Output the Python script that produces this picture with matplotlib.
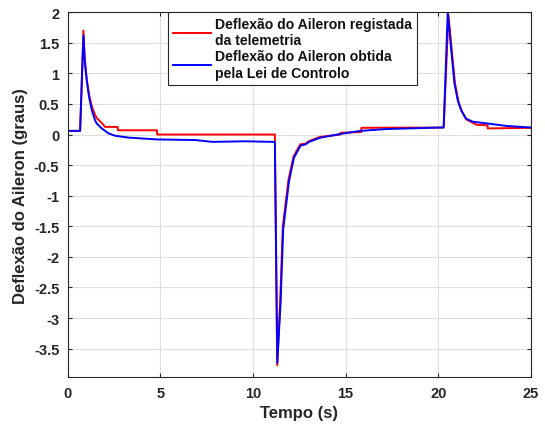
import matplotlib.pyplot as plt

plt.rcParams['font.family'] = ['Liberation Sans', 'DejaVu Sans']
plt.rcParams['font.weight'] = 'bold'

# telemetry (red)
t_tel = [0, 0.67, 0.85, 0.92, 1.03, 1.15, 1.30, 1.48, 1.57, 1.84, 2.02, 2.70, 2.71,
         4.82, 4.83, 11.18, 11.31, 11.47, 11.61, 11.92, 12.19, 12.55, 12.84, 13.0,
         13.6, 14.72, 14.73, 15.84, 15.85, 20.29, 20.55, 20.75, 20.9, 21.1, 21.3,
         21.5, 22.05, 22.66, 22.67, 25]
d_tel = [0.06, 0.06, 1.70, 1.25, 0.90, 0.66, 0.46, 0.32, 0.27, 0.19, 0.125, 0.125, 0.07,
         0.07, 0.0, 0.0, -3.77, -2.7, -1.5, -0.73, -0.36, -0.16, -0.15, -0.11,
         -0.04, 0.0, 0.03, 0.04, 0.11, 0.115, 1.95, 1.3, 0.84, 0.52, 0.36,
         0.25, 0.16, 0.15, 0.10, 0.11]

# control law (blue)
t_ctl = [0, 0.67, 0.85, 0.92, 1.03, 1.15, 1.30, 1.48, 1.57, 1.84, 2.2, 2.56, 3.28,
         4.82, 6.9, 7.8, 9.6, 11.04, 11.18, 11.31, 11.49, 11.63, 11.94, 12.21,
         12.57, 12.84, 13.02, 13.65, 14.73, 15.8, 17.2, 20.2, 20.29, 20.51, 20.7,
         20.87, 21.05, 21.23, 21.5, 21.86, 22.67, 23.7, 25]
d_ctl = [0.06, 0.06, 1.62, 1.2, 0.88, 0.62, 0.40, 0.23, 0.18, 0.10, 0.02, -0.02, -0.05,
         -0.08, -0.09, -0.12, -0.11, -0.12, -0.12, -3.73, -2.75, -1.55, -0.77, -0.38,
         -0.18, -0.16, -0.12, -0.05, 0.01, 0.06, 0.09, 0.115, 0.115, 2.0, 1.38,
         0.84, 0.56, 0.40, 0.26, 0.21, 0.18, 0.14, 0.115]

fig = plt.figure(figsize=(5.45, 4.27), dpi=100)
ax = fig.add_axes([0.1242, 0.114, 0.850, 0.855])

ax.plot(t_tel, d_tel, color='#ff0000', lw=1.4,
        label='Deflexão do Aileron registada\nda telemetria')
ax.plot(t_ctl, d_ctl, color='#0000ff', lw=1.4,
        label='Deflexão do Aileron obtida\npela Lei de Controlo')

ax.set_xlim(0, 25)
ax.set_ylim(-3.97, 2)
ax.set_xticks([0, 5, 10, 15, 20, 25])
ax.set_yticks([-3.5, -3, -2.5, -2, -1.5, -1, -0.5, 0, 0.5, 1, 1.5, 2])
ax.set_yticklabels(['-3.5', '-3', '-2.5', '-2', '-1.5', '-1', '-0.5', '0', '0.5', '1', '1.5', '2'])

ax.grid(True, color='#dedede', lw=0.8)
ax.set_axisbelow(True)
ax.tick_params(direction='in', top=True, right=True, length=3, width=0.8,
               colors='#262626', labelsize=10.5, pad=6)
for s in ax.spines.values():
    s.set_color('#262626')
    s.set_linewidth(0.8)

ax.set_xlabel('Tempo (s)', fontsize=12, fontweight='bold', color='#262626')
ax.set_ylabel('Deflexão do Aileron (graus)', fontsize=12, fontweight='bold', color='#262626')

leg = ax.legend(loc='upper left', bbox_to_anchor=(0.2165, 1.0), fontsize=10.1,
                fancybox=False, framealpha=1, edgecolor='#262626', borderaxespad=0,
                handlelength=2.75, labelspacing=0.15, borderpad=0.35, handletextpad=0.25)
leg.get_frame().set_linewidth(0.8)
for txt in leg.get_texts():
    txt.set_fontweight('bold')
    txt.set_color('#111111')

fig.savefig('out.png', dpi=100)
